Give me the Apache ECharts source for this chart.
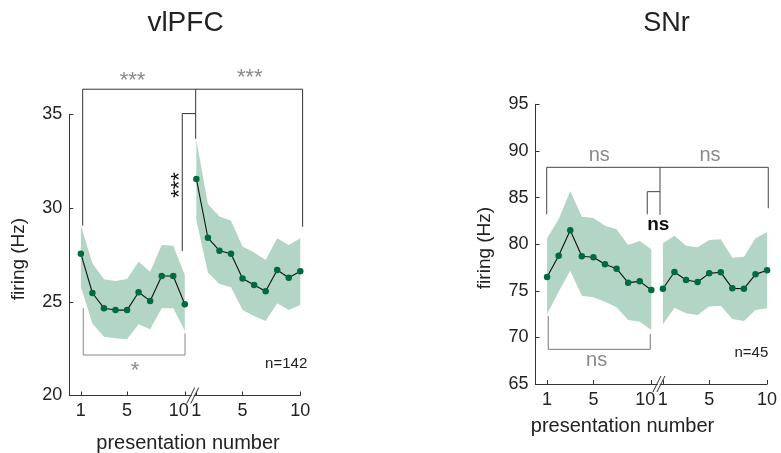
<!DOCTYPE html>
<html><head><meta charset="utf-8">
<script src="https://cdn.jsdelivr.net/npm/echarts@6/dist/echarts.min.js"></script>
<style>html,body{margin:0;padding:0;background:#fff}#c{width:781px;height:453px}</style>
</head><body><div id="c"></div>
<script>
// ---- data ----
const presentation = [1,2,3,4,5,6,7,8,9,10];
const xTickPositions = [1,5,10,11,15,20];
const xTickLabels = ['1','5','10','1','5','10'];

const vlpfcMean1  = [27.57,25.47,24.66,24.56,24.56,25.51,25.05,26.38,26.38,24.87];
const vlpfcUpper1 = [29.07,27.06,26.20,26.11,26.22,27.14,26.61,28.04,28.00,26.43];
const vlpfcLower1 = [25.81,23.85,23.14,23.05,23.00,23.80,23.53,24.66,24.66,23.46];
const vlpfcMean2  = [31.56,28.42,27.73,27.57,26.24,25.90,25.56,26.70,26.29,26.63];
const vlpfcUpper2 = [33.64,30.22,29.55,29.33,27.95,27.63,27.23,28.39,28.04,28.39];
const vlpfcLower2 = [29.37,26.56,25.95,25.78,24.56,24.24,23.98,24.92,24.56,24.83];

const snrMean1  = [76.48,78.76,81.49,78.70,78.59,77.84,77.37,75.87,76.01,75.08];
const snrUpper1 = [80.63,82.67,85.70,82.95,82.80,81.98,81.59,79.91,80.34,79.45];
const snrLower1 = [72.51,74.90,77.16,74.47,74.30,73.83,73.22,71.86,71.69,70.79];
const snrMean2  = [75.22,77.01,76.16,75.94,76.87,76.98,75.26,75.22,76.76,77.19];
const snrUpper2 = [80.09,80.91,79.83,79.66,80.45,80.52,78.55,78.66,80.63,81.30];
const snrLower2 = [71.40,73.19,72.58,72.40,73.30,73.40,71.97,71.76,72.94,73.12];

const vlpfcN = 'n=142';
const snrN = 'n=45';

// ---- styling ----
const FONT = '"Liberation Sans", Arial, Helvetica, sans-serif';
const BAND = '#b3d5c5';
const DOT = '#006b3c';
const AXIS = '#333';
const GREY = '#8a8a8a';
const GROUP2_OFFSET = 10;

const chart = echarts.init(document.getElementById('c'), null, {renderer:'canvas'});

function pts(ys, off){ return presentation.map((x,i)=>[x+off, ys[i]]); }

function bandSeries(g, up1, lo1, up2, lo2){
  return {type:'custom', xAxisIndex:g, yAxisIndex:g, coordinateSystem:'cartesian2d',
    clip:false, silent:true, z:1, animation:false,
    data:[[1, lo1[0]]],
    renderItem(params, api){
      const poly = (up, lo, off) => {
        const p = [];
        presentation.forEach((x,i)=>p.push(api.coord([x+off, up[i]])));
        for(let i=presentation.length-1;i>=0;i--) p.push(api.coord([presentation[i]+off, lo[i]]));
        return {type:'polygon', shape:{points:p}, style:{fill:BAND}};
      };
      return {type:'group', children:[poly(up1,lo1,0), poly(up2,lo2,GROUP2_OFFSET)]};
    }};
}

function meanSeries(g, ys, off){
  return {type:'line', xAxisIndex:g, yAxisIndex:g, data:pts(ys, off), symbol:'circle',
    symbolSize:6.5, showSymbol:true, itemStyle:{color:DOT, borderWidth:0},
    lineStyle:{color:'#111', width:1.1}, z:3, animation:false, silent:true};
}

// annotation items in data coordinates
function annoSeries(g, items, yRef){
  return {type:'custom', xAxisIndex:g, yAxisIndex:g, coordinateSystem:'cartesian2d',
    clip:false, silent:true, z:5, animation:false, data:[[1, yRef]],
    renderItem(params, api){
      const children = [];
      items.forEach(it => {
        if (it.kind === 'path') {
          children.push({type:'polyline', shape:{points: it.pts.map(p=>api.coord(p))},
            style:{stroke: it.color, lineWidth: 1, fill:null}});
        } else if (it.kind === 'text') {
          const c = api.coord(it.at);
          children.push({type:'text', x:c[0]+(it.dx||0), y:c[1]+(it.dy||0), rotation: it.rotate||0,
            style:{text: it.text, fill: it.color, font: (it.weight||'normal')+' '+it.size+'px '+FONT,
              align: it.align||'center', verticalAlign:'middle'}});
        } else if (it.kind === 'break') {
          const c = api.coord(it.at);
          const [cx, cy] = c;
          children.push({type:'polygon', shape:{points:[[cx-4,cy+6],[cx+2,cy-6],[cx+4,cy-6],[cx-2,cy+6]]}, style:{fill:'#fff'}});
          children.push({type:'line', shape:{x1:cx-6,y1:cy+8,x2:cx+2,y2:cy-8}, style:{stroke:AXIS,lineWidth:1}});
          children.push({type:'line', shape:{x1:cx-2,y1:cy+8,x2:cx+6,y2:cy-8}, style:{stroke:AXIS,lineWidth:1}});
        }
      });
      return {type:'group', children};
    }};
}

const vlpfcAnno = [
  {kind:'path', color:AXIS, pts:[[1.16,29.07],[1.16,36.35],[20.2,36.35],[20.2,29.01]]},
  {kind:'path', color:AXIS, pts:[[10.94,36.35],[10.94,33.7]]},
  {kind:'path', color:AXIS, pts:[[9.78,27.71],[9.78,35.05],[10.94,35.05]]},
  {kind:'text', at:[5.47,37.02], text:'***', color:GREY, size:22, dy:4},
  {kind:'text', at:[15.63,37.15], text:'***', color:GREY, size:22, dy:4},
  {kind:'text', at:[9.24,31.24], text:'***', color:'#111', size:22, rotate:Math.PI/2, dx:4},
  {kind:'path', color:GREY, pts:[[1.21,24.66],[1.21,22.16],[10.02,22.16],[10.02,23.32]]},
  {kind:'text', at:[5.69,21.54], text:'*', color:GREY, size:22, dy:4},
  {kind:'text', at:[20.6,21.68], text:vlpfcN, color:'#222', size:15, align:'right'},
  {kind:'break', at:[10.69,20]}
];
const snrAnno = [
  {kind:'path', color:'#444', pts:[[0.97,83.2],[0.97,88.24],[20.1,88.24],[20.1,83.85]]},
  {kind:'path', color:'#444', pts:[[10.75,88.24],[10.75,83.13]]},
  {kind:'path', color:'#444', pts:[[9.65,83.2],[9.65,85.63],[10.75,85.63]]},
  {kind:'text', at:[5.51,89.56], text:'ns', color:GREY, size:20},
  {kind:'text', at:[15.07,89.56], text:'ns', color:GREY, size:20},
  {kind:'text', at:[10.6,82.13], text:'ns', color:'#111', size:19, weight:'bold'},
  {kind:'path', color:'#777', pts:[[1.1,72.29],[1.1,68.72],[9.91,68.72],[9.91,70.36]]},
  {kind:'text', at:[5.28,67.57], text:'ns', color:GREY, size:20},
  {kind:'text', at:[20.1,68.29], text:snrN, color:'#222', size:15, align:'right'},
  {kind:'break', at:[10.66,65]}
];

function xAxisCfg(g){
  return {gridIndex:g, type:'value', min:0, max:20,
    axisLine:{show:true, lineStyle:{color:AXIS, width:1}},
    axisTick:{show:true, inside:true, length:4, customValues:xTickPositions, lineStyle:{color:AXIS}},
    axisLabel:{customValues:xTickPositions,
      formatter: v => { const i = xTickPositions.indexOf(v); return i === 2 ? '{s|' + xTickLabels[i] + '}' : xTickLabels[i]; },
      rich:{s:{fontSize:18, color:'#222', fontFamily:FONT, padding:[0,12,0,0]}},
      fontSize:18, margin:7, color:'#222', fontFamily:FONT},
    splitLine:{show:false}};
}
function yAxisCfg(g, min, max){
  return {gridIndex:g, type:'value', min, max, interval:5,
    axisLine:{show:true, lineStyle:{color:AXIS, width:1}},
    axisTick:{show:true, inside:true, length:4, lineStyle:{color:AXIS}},
    axisLabel:{fontSize:18, margin:7, color:'#222', fontFamily:FONT},
    splitLine:{show:false}};
}

const txt = (x, y, text, size, rot) => ({type:'text', x, y, rotation: rot||0,
  style:{text, fill:'#222', font: size+'px '+FONT, align:'center', verticalAlign:'middle'}});

chart.setOption({
  animation:false,
  backgroundColor:'#fff',
  grid:[
    {left:69.3, top:114.5, width:231, height:281, containLabel:false, outerBoundsMode:'none'},
    {left:535.5, top:104.3, width:231.6, height:279.7, containLabel:false, outerBoundsMode:'none'}
  ],
  xAxis:[xAxisCfg(0), xAxisCfg(1)],
  yAxis:[yAxisCfg(0,20,35), yAxisCfg(1,65,95)],
  graphic:[
    txt(185.5, 23, 'vlPFC', 28),
    txt(666.5, 24, 'SNr', 27),
    txt(18.5, 259, 'firing (Hz)', 19, Math.PI/2),
    txt(485, 248, 'firing (Hz)', 19, Math.PI/2),
    txt(188, 443, 'presentation number', 20),
    txt(622.5, 426, 'presentation number', 20)
  ],
  series:[
    bandSeries(0, vlpfcUpper1, vlpfcLower1, vlpfcUpper2, vlpfcLower2),
    meanSeries(0, vlpfcMean1, 0),
    meanSeries(0, vlpfcMean2, GROUP2_OFFSET),
    annoSeries(0, vlpfcAnno, 25),
    bandSeries(1, snrUpper1, snrLower1, snrUpper2, snrLower2),
    meanSeries(1, snrMean1, 0),
    meanSeries(1, snrMean2, GROUP2_OFFSET),
    annoSeries(1, snrAnno, 75)
  ]
});
</script>
</body></html>
